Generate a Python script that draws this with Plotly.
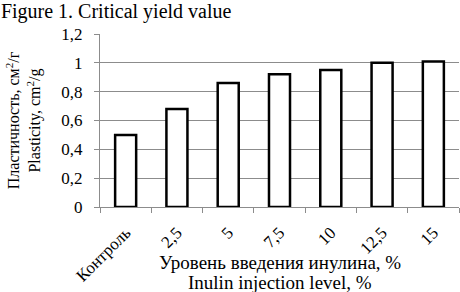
import plotly.graph_objects as go

categories = ["Контроль", "2,5", "5", "7,5", "10", "12,5", "15"]
values = [0.50, 0.68, 0.86, 0.92, 0.95, 1.00, 1.01]
y_ticks = [0, 0.2, 0.4, 0.6, 0.8, 1.0, 1.2]
y_tick_labels = ["0", "0,2", "0,4", "0,6", "0,8", "1", "1,2"]

FONT = "Liberation Serif, Times New Roman, serif"

fig = go.Figure(go.Bar(
    x=categories, y=values,
    marker=dict(color="white", line=dict(color="black", width=2.5)),
    width=0.41,
))

fig.update_layout(
    width=460, height=292,
    margin=dict(l=100, r=1, t=34, b=85, autoexpand=False),
    paper_bgcolor="white", plot_bgcolor="white",
    font=dict(family=FONT, size=16, color="black"),
    showlegend=False,
    title=dict(text="Figure 1. Critical yield value", x=0.002, xref="container", xanchor="left",
               y=1 - 11 / 292, yref="container", yanchor="middle", font=dict(size=20)),
    xaxis=dict(
        tickangle=-45, showgrid=False, showline=True, linecolor="#8c8c8c", linewidth=1,
        ticks="outside", tickson="boundaries", ticklen=5, tickcolor="#8c8c8c",
        tickfont=dict(size=17), ticklabelstandoff=8, automargin=False,
    ),
    yaxis=dict(
        range=[0, 1.2], tickvals=y_ticks, ticktext=y_tick_labels,
        showgrid=True, gridcolor="#8c8c8c", gridwidth=1,
        showline=True, linecolor="#8c8c8c", linewidth=1,
        ticks="outside", ticklen=5, tickcolor="#8c8c8c",
        tickfont=dict(size=17), zeroline=False, ticklabelstandoff=8, automargin=False,
        title=dict(text="Пластичность, см<sup>2</sup>/г<br>Plasticity, cm<sup>2</sup>/g",
                   font=dict(size=16), standoff=16),
    ),
)

x_title_lines = ["Уровень введения инулина, %", "Inulin injection level, %"]
for i, line in enumerate(x_title_lines):
    fig.add_annotation(
        text=line, showarrow=False, xref="paper", yref="paper",
        x=0.5, y=(207 - (262 + 20 * i)) / 173, xanchor="center", yanchor="middle",
        font=dict(size=19),
    )

fig.write_html("out.html")
